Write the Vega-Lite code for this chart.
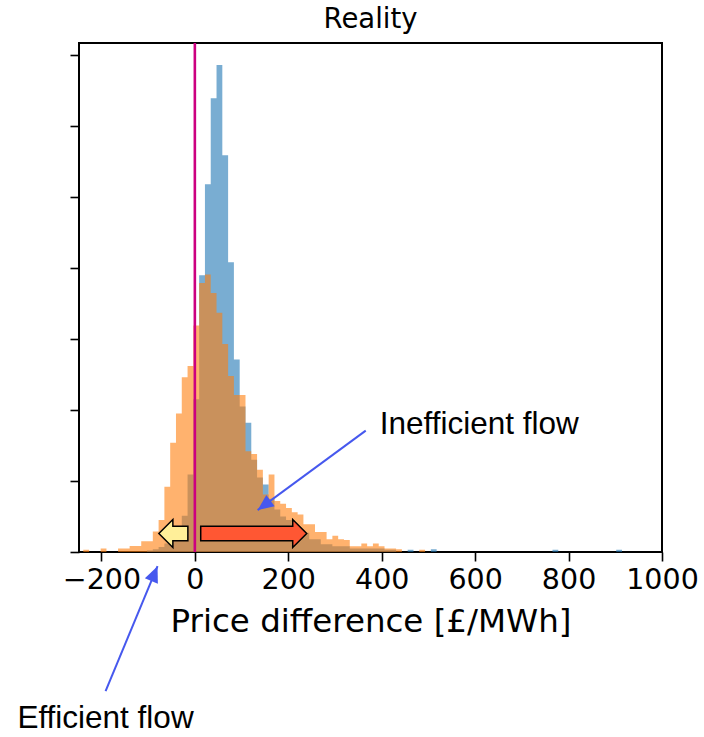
{
  "$schema": "https://vega.github.io/schema/vega-lite/v6.json",
  "width": 583,
  "height": 509,
  "autosize": "none",
  "padding": {"left": 79, "top": 43, "right": 42, "bottom": 185},
  "config": {
    "view": {"stroke": "black", "strokeWidth": 2},
    "axis": {"grid": false, "domain": false, "tickColor": "black", "tickWidth": 1.6, "tickSize": 9,
             "labelFont": "DejaVu Sans", "labelFontSize": 28.5, "labelColor": "black",
             "titleFont": "DejaVu Sans", "titleFontWeight": "normal", "titleColor": "black"}
  },
  "title": {"text": "Reality", "font": "DejaVu Sans", "fontSize": 27.5, "fontWeight": "normal", "color": "black", "offset": 8},
  "datasets": {
    "blue": [
      {"a": -102.4, "h": 0.02},
      {"a": -90.0, "h": 0.04},
      {"a": -77.6, "h": 0.07},
      {"a": -65.2, "h": 0.12},
      {"a": -52.8, "h": 0.2},
      {"a": -40.4, "h": 0.33},
      {"a": -28.0, "h": 0.51},
      {"a": -15.6, "h": 1.09},
      {"a": -3.2, "h": 2.15},
      {"a": 9.2, "h": 3.9},
      {"a": 21.6, "h": 5.18},
      {"a": 34.0, "h": 6.39},
      {"a": 46.4, "h": 6.86},
      {"a": 58.8, "h": 5.59},
      {"a": 71.2, "h": 4.08},
      {"a": 83.6, "h": 2.71},
      {"a": 96.0, "h": 2.05},
      {"a": 108.4, "h": 1.82},
      {"a": 120.8, "h": 1.3},
      {"a": 133.2, "h": 1.05},
      {"a": 145.6, "h": 0.95},
      {"a": 158.0, "h": 0.75},
      {"a": 170.4, "h": 0.6},
      {"a": 182.8, "h": 0.5},
      {"a": 195.2, "h": 0.45},
      {"a": 207.6, "h": 0.38},
      {"a": 220.0, "h": 0.3},
      {"a": 232.4, "h": 0.27},
      {"a": 244.8, "h": 0.18},
      {"a": 257.2, "h": 0.18},
      {"a": 269.6, "h": 0.11},
      {"a": 282.0, "h": 0.11},
      {"a": 294.4, "h": 0.08},
      {"a": 306.8, "h": 0.08},
      {"a": 319.2, "h": 0.08},
      {"a": 331.6, "h": 0.05},
      {"a": 344.0, "h": 0.05},
      {"a": 356.4, "h": 0.05},
      {"a": 368.8, "h": 0.05},
      {"a": 381.2, "h": 0.05},
      {"a": 393.6, "h": 0.05},
      {"a": 406.0, "h": 0.03},
      {"a": 418.4, "h": 0.03},
      {"a": 430.8, "h": 0},
      {"a": 443.2, "h": 0},
      {"a": 455.6, "h": 0.03},
      {"a": 468.0, "h": 0},
      {"a": 480.4, "h": 0},
      {"a": 492.8, "h": 0},
      {"a": 505.2, "h": 0.04},
      {"a": 517.6, "h": 0},
      {"a": 530.0, "h": 0},
      {"a": 542.4, "h": 0},
      {"a": 554.8, "h": 0},
      {"a": 567.2, "h": 0},
      {"a": 579.6, "h": 0},
      {"a": 592.0, "h": 0},
      {"a": 604.4, "h": 0},
      {"a": 616.8, "h": 0},
      {"a": 629.2, "h": 0},
      {"a": 641.6, "h": 0},
      {"a": 654.0, "h": 0},
      {"a": 666.4, "h": 0},
      {"a": 678.8, "h": 0},
      {"a": 691.2, "h": 0},
      {"a": 703.6, "h": 0},
      {"a": 716.0, "h": 0},
      {"a": 728.4, "h": 0},
      {"a": 740.8, "h": 0},
      {"a": 753.2, "h": 0},
      {"a": 765.6, "h": 0.03},
      {"a": 778.0, "h": 0},
      {"a": 790.4, "h": 0},
      {"a": 802.8, "h": 0},
      {"a": 815.2, "h": 0},
      {"a": 827.6, "h": 0},
      {"a": 840.0, "h": 0},
      {"a": 852.4, "h": 0},
      {"a": 864.8, "h": 0},
      {"a": 877.2, "h": 0},
      {"a": 889.6, "h": 0},
      {"a": 902.0, "h": 0.03},
      {"a": 914.4, "h": 0}
    ],
    "orange": [
      {"a": -238.8, "h": 0.03},
      {"a": -226.4, "h": 0},
      {"a": -214.0, "h": 0},
      {"a": -201.6, "h": 0.05},
      {"a": -189.2, "h": 0},
      {"a": -176.8, "h": 0},
      {"a": -164.4, "h": 0.05},
      {"a": -152.0, "h": 0.05},
      {"a": -139.6, "h": 0.085},
      {"a": -127.2, "h": 0.085},
      {"a": -114.8, "h": 0.15},
      {"a": -102.4, "h": 0.15},
      {"a": -90.0, "h": 0.29},
      {"a": -77.6, "h": 0.45},
      {"a": -65.2, "h": 0.92},
      {"a": -52.8, "h": 1.54},
      {"a": -40.4, "h": 1.95},
      {"a": -28.0, "h": 2.46},
      {"a": -15.6, "h": 2.62},
      {"a": -3.2, "h": 3.19},
      {"a": 9.2, "h": 3.79},
      {"a": 21.6, "h": 3.91},
      {"a": 34.0, "h": 3.65},
      {"a": 46.4, "h": 3.37},
      {"a": 58.8, "h": 2.93},
      {"a": 71.2, "h": 2.48},
      {"a": 83.6, "h": 2.21},
      {"a": 96.0, "h": 2.21},
      {"a": 108.4, "h": 1.42},
      {"a": 120.8, "h": 1.38},
      {"a": 133.2, "h": 1.16},
      {"a": 145.6, "h": 0.81},
      {"a": 158.0, "h": 1.09},
      {"a": 170.4, "h": 0.72},
      {"a": 182.8, "h": 0.68},
      {"a": 195.2, "h": 0.62},
      {"a": 207.6, "h": 0.56},
      {"a": 220.0, "h": 0.53},
      {"a": 232.4, "h": 0.39},
      {"a": 244.8, "h": 0.39},
      {"a": 257.2, "h": 0.28},
      {"a": 269.6, "h": 0.28},
      {"a": 282.0, "h": 0.18},
      {"a": 294.4, "h": 0.23},
      {"a": 306.8, "h": 0.18},
      {"a": 319.2, "h": 0.17},
      {"a": 331.6, "h": 0.08},
      {"a": 344.0, "h": 0.08},
      {"a": 356.4, "h": 0.12},
      {"a": 368.8, "h": 0.08},
      {"a": 381.2, "h": 0.12},
      {"a": 393.6, "h": 0.08},
      {"a": 406.0, "h": 0.05},
      {"a": 418.4, "h": 0.05},
      {"a": 430.8, "h": 0.04},
      {"a": 443.2, "h": 0},
      {"a": 455.6, "h": 0},
      {"a": 468.0, "h": 0},
      {"a": 480.4, "h": 0.03},
      {"a": 492.8, "h": 0}
    ]
  },
  "layer": [
    {
      "data": {"name": "blue"},
      "mark": {"type": "area", "color": "#1f77b4", "opacity": 0.6, "interpolate": "step-after"},
      "encoding": {
        "x": {"field": "a", "type": "quantitative",
              "scale": {"domain": [-248, 1000], "nice": false, "zero": false},
              "axis": {"values": [-200, 0, 200, 400, 600, 800, 1000], "format": "d", "title": "Price difference [£/MWh]",
                       "titleFontSize": 32.5, "labelPadding": 4, "titlePadding": 12, "labelFlush": false, "labelOverlap": false}},
        "y": {"field": "h", "type": "quantitative", "stack": null,
              "scale": {"domain": [0, 7.17], "nice": false},
              "axis": {"values": [0, 1, 2, 3, 4, 5, 6, 7], "labels": false, "title": null}}
      }
    },
    {
      "data": {"name": "orange"},
      "mark": {"type": "area", "color": "#ff7f0e", "opacity": 0.6, "interpolate": "step-after"},
      "encoding": {
        "x": {"field": "a", "type": "quantitative"},
        "y": {"field": "h", "type": "quantitative", "stack": null}
      }
    },
    {
      "data": {"values": [{"v": 0}]},
      "mark": {"type": "rule", "color": "#cc0080", "strokeWidth": 2.6},
      "encoding": {"x": {"field": "v", "type": "quantitative"}}
    },
    {
      "data": {"values": [{"x": 126, "y": 0.26}]},
      "mark": {"type": "point", "filled": true, "opacity": 1, "fill": "#ff5733", "stroke": "black", "strokeWidth": 1.5,
               "size": 11236, "shape": "M-1,-0.136 L0.736,-0.136 L0.736,-0.264 L1,0 L0.736,0.264 L0.736,0.136 L-1,0.136 Z"},
      "encoding": {"x": {"field": "x", "type": "quantitative"}, "y": {"field": "y", "type": "quantitative"}}
    },
    {
      "data": {"values": [{"x": -46, "y": 0.26}]},
      "mark": {"type": "point", "filled": true, "opacity": 1, "fill": "#ffef99", "stroke": "black", "strokeWidth": 1.5,
               "size": 841, "shape": "M1,-0.497 L-0.034,-0.497 L-0.034,-0.966 L-1,0 L-0.034,0.966 L-0.034,0.497 L1,0.497 Z"},
      "encoding": {"x": {"field": "x", "type": "quantitative"}, "y": {"field": "y", "type": "quantitative"}}
    },
    {
      "data": {"values": [{"x0": 365.8, "y0": 1.71, "x1": 134.4, "y1": 0.59}, {"x0": -191.1, "y0": -1.96, "x1": -79.9, "y1": -0.2}]},
      "mark": {"type": "rule", "color": "#4658ee", "strokeWidth": 2},
      "encoding": {"x": {"field": "x0", "type": "quantitative"}, "y": {"field": "y0", "type": "quantitative"},
                   "x2": {"field": "x1"}, "y2": {"field": "y1"}}
    },
    {
      "data": {"values": [{"x": 134.4, "y": 0.59}]},
      "mark": {"type": "point", "filled": true, "opacity": 1, "color": "#4658ee", "size": 1024, "angle": 143.5, "shape": "M0,0 L-1,-0.44 L-1,0.44 Z"},
      "encoding": {"x": {"field": "x", "type": "quantitative"}, "y": {"field": "y", "type": "quantitative"}}
    },
    {
      "data": {"values": [{"x": -79.9, "y": -0.2}]},
      "mark": {"type": "point", "filled": true, "opacity": 1, "color": "#4658ee", "size": 1024, "angle": 292.6, "shape": "M0,0 L-1,-0.44 L-1,0.44 Z"},
      "encoding": {"x": {"field": "x", "type": "quantitative"}, "y": {"field": "y", "type": "quantitative"}}
    },
    {
      "data": {"values": [{"x": 395.8, "y": 1.66, "t": "Inefficient flow"}, {"x": -379.9, "y": -2.48, "t": "Efficient flow"}]},
      "mark": {"type": "text", "font": "Liberation Sans", "fontSize": 31.5, "align": "left", "baseline": "alphabetic", "color": "black"},
      "encoding": {"x": {"field": "x", "type": "quantitative"}, "y": {"field": "y", "type": "quantitative"}, "text": {"field": "t"}}
    }
  ]
}
